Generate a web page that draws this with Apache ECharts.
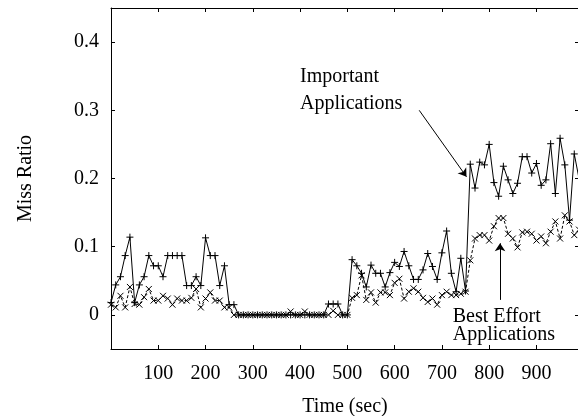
<!DOCTYPE html>
<html>
<head>
<meta charset="utf-8">
<script src="https://cdn.jsdelivr.net/npm/echarts@6/dist/echarts.min.js"></script>
<style>
  html, body { margin: 0; padding: 0; background: #fff; }
  #chart { width: 578px; height: 416px; }
</style>
</head>
<body>
<div id="chart"></div>
<script>
// sample times (sec), one sample every 10 s
var times = [0,10,20,30,40,50,60,70,80,90,100,110,120,130,140,150,160,170,180,190,
  200,210,220,230,240,250,260,270,280,290,300,310,320,330,340,350,360,370,380,390,
  400,410,420,430,440,450,460,470,480,490,500,510,520,530,540,550,560,570,580,590,
  600,610,620,630,640,650,660,670,680,690,700,710,720,730,740,750,760,770,780,790,
  800,810,820,830,840,850,860,870,880,890,900,910,920,930,940,950,960,970,980,990];

var importantApps = [0.018,0.044,0.056,0.087,0.114,0.018,0.044,0.056,0.087,0.072,
  0.072,0.056,0.087,0.087,0.087,0.087,0.043,0.043,0.056,0.043,
  0.113,0.087,0.087,0.043,0.072,0.015,0.015,0,0,0,
  0,0,0,0,0,0,0,0,0,0,
  0,0,0,0,0,0,0.016,0.016,0.016,0,
  0,0.081,0.072,0.061,0.041,0.073,0.061,0.061,0.041,0.062,
  0.077,0.071,0.093,0.072,0.052,0.052,0.066,0.090,0.071,0.052,
  0.091,0.123,0.061,0.034,0.083,0.035,0.221,0.186,0.224,0.220,
  0.250,0.194,0.174,0.218,0.198,0.178,0.193,0.232,0.232,0.208,
  0.222,0.190,0.198,0.251,0.178,0.259,0.220,0.139,0.236,0.200];

var bestEffortApps = [0.015,0.011,0.028,0.011,0.041,0.016,0.015,0.026,0.038,0.021,
  0.021,0.028,0.024,0.015,0.024,0.021,0.021,0.025,0.038,0.011,
  0.024,0.033,0.021,0.021,0.011,0.011,0,0,0,0,
  0,0,0,0,0,0,0,0,0.005,0,
  0,0.005,0,0,0,0,0,0.006,0,0,
  0,0.025,0.029,0.058,0.022,0.033,0.018,0.033,0.033,0.029,
  0.047,0.053,0.024,0.034,0.039,0.034,0.025,0.019,0.024,0.015,
  0.029,0.034,0.029,0.029,0.031,0.034,0.080,0.112,0.117,0.117,
  0.109,0.130,0.142,0.142,0.119,0.112,0.099,0.121,0.122,0.119,
  0.109,0.115,0.105,0.122,0.137,0.112,0.146,0.137,0.117,0.125];

var xTicks = [100,200,300,400,500,600,700,800,900];
var yTicks = [0,0.1,0.2,0.3,0.4];

var FONT = 'Liberation Serif';

function pairs(ys) {
  return times.map(function (t, i) { return [t, ys[i]]; });
}

var plusPath = 'path://M5,0L5,10M0,5L10,5';
var crossPath = 'path://M0,0L10,10M10,0L0,10';

var chart = echarts.init(document.getElementById('chart'), null, { renderer: 'canvas' });

var tickStyle = { show: true, inside: true, length: 4, lineStyle: { color: '#000', width: 1 } };
var frameLine = { show: true, onZero: false, lineStyle: { color: '#000', width: 1 } };

var option = {
  animation: false,
  backgroundColor: '#fff',
  grid: { left: 111, right: -1, top: 8, bottom: 67, outerBoundsMode: 'none' },
  xAxis: [
    {
      type: 'value', min: 0, max: 990, position: 'bottom',
      name: 'Time (sec)', nameLocation: 'middle', nameGap: 48,
      nameTextStyle: { fontFamily: FONT, fontSize: 20, color: '#000' },
      axisLine: frameLine,
      axisTick: Object.assign({ customValues: xTicks }, tickStyle),
      axisLabel: { customValues: xTicks, margin: 15, fontFamily: FONT, fontSize: 20, color: '#000' },
      splitLine: { show: false }
    },
    {
      type: 'value', min: 0, max: 990, position: 'top',
      axisLine: frameLine,
      axisTick: Object.assign({ customValues: xTicks }, tickStyle),
      axisLabel: { show: false },
      splitLine: { show: false }
    }
  ],
  yAxis: [
    {
      type: 'value', min: -0.05, max: 0.45, position: 'left',
      name: 'Miss Ratio', nameLocation: 'middle', nameGap: 75,
      nameTextStyle: { fontFamily: FONT, fontSize: 20, color: '#000' },
      axisLine: frameLine,
      axisTick: Object.assign({ customValues: yTicks }, tickStyle),
      axisLabel: {
        customValues: yTicks, margin: 12, fontFamily: FONT, fontSize: 20, color: '#000',
        formatter: function (v) { return v === 0 ? '0' : v.toFixed(1); }
      },
      splitLine: { show: false }
    },
    {
      type: 'value', min: -0.05, max: 0.45, position: 'right',
      axisLine: frameLine,
      axisTick: Object.assign({ customValues: yTicks }, tickStyle),
      axisLabel: { show: false },
      splitLine: { show: false }
    }
  ],
  series: [
    {
      name: 'Important Applications',
      type: 'line',
      data: pairs(importantApps),
      symbol: plusPath,
      symbolSize: 7,
      showAllSymbol: true,
      lineStyle: { color: '#000', width: 1 },
      itemStyle: { color: 'none', borderColor: '#000', borderWidth: 1 },
      markLine: {
        silent: true,
        symbol: ['none', 'arrow'],
        symbolSize: 8,
        label: { show: false },
        lineStyle: { color: '#000', width: 1, type: 'solid' },
        data: [
          [{ coord: [652, 0.300] }, { coord: [752, 0.2025] }],
          [{ coord: [823, 0.022] }, { coord: [823, 0.105] }]
        ]
      },
      markPoint: {
        silent: true,
        symbolSize: 0,
        label: {
          show: true, position: 'right', distance: 0,
          fontFamily: FONT, fontSize: 20, color: '#000',
          formatter: function (p) { return p.name; }
        },
        data: [
          { name: 'Important', coord: [400, 0.3485] },
          { name: 'Applications', coord: [400, 0.309] },
          { name: 'Best Effort', coord: [723, -0.003] },
          { name: 'Applications', coord: [723, -0.029] }
        ]
      },
      z: 3
    },
    {
      name: 'Best Effort Applications',
      type: 'line',
      data: pairs(bestEffortApps),
      symbol: crossPath,
      symbolSize: 6,
      showAllSymbol: true,
      lineStyle: { color: '#000', width: 1, type: [3, 2] },
      itemStyle: { color: 'none', borderColor: '#000', borderWidth: 1 },
      z: 2
    }
  ]
};

chart.setOption(option);
</script>
</body>
</html>
